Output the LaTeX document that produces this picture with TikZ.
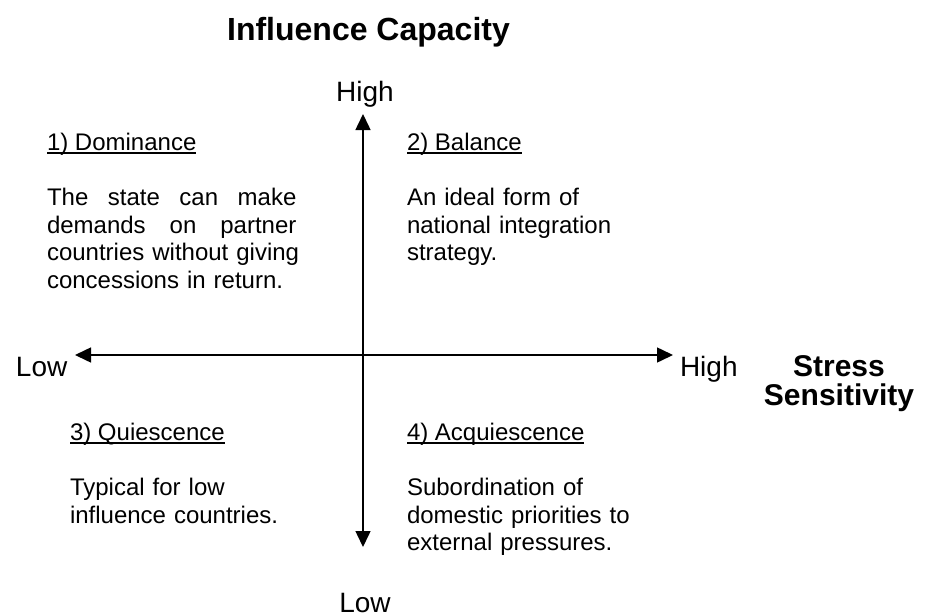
\documentclass[tikz,border=0pt]{standalone}
\usepackage{fontspec}
\setmainfont{Liberation Sans}
\usetikzlibrary{arrows.meta}
\newcommand\myul[1]{\setbox0\hbox{#1}\rlap{\rule[-1.9pt]{\wd0}{0.8pt}}\box0}
\newcommand\jline[1]{\leavevmode\hbox to 124.7pt{\spaceskip=0.278em plus 1fil\relax #1}}
\begin{document}
\begin{tikzpicture}[x=0.5pt,y=-0.5pt,
  txt/.style={inner sep=0pt, outer sep=0pt, font=\fontsize{12}{13.8}\selectfont, align=left, anchor=base west},
  headtxt/.style={txt},
  bodytxt/.style={txt, text width=135pt},
  axlabel/.style={inner sep=0pt, outer sep=0pt, font=\fontsize{14}{16}\selectfont},
  boldlabel/.style={inner sep=0pt, outer sep=0pt, font=\fontsize{15}{14.5}\selectfont\bfseries, align=center},
  axisline/.style={line width=0.75pt, {Triangle[length=8pt,width=7.5pt]}-{Triangle[length=8pt,width=7.5pt]}}]
\useasboundingbox (0,0) rectangle (925,615);
% title
\node[inner sep=0pt, font=\fontsize{16}{18}\selectfont\bfseries, anchor=base] (title) at (368.5,41) {Influence Capacity};
% axes
\coordinate (vtop) at (363,114);
\coordinate (vbot) at (363,547);
\coordinate (hleft) at (75,355);
\coordinate (hright) at (673,355);
\draw[axisline] (vbot) -- (vtop);
\draw[axisline] (hleft) -- (hright);
% axis labels
\node[axlabel, anchor=base] (ytop) at (365,102) {High};
\node[axlabel, anchor=base] (ybot) at (365,612) {Low};
\node[axlabel, anchor=base west] (xleft) at (16,376) {Low};
\node[axlabel, anchor=base west] (xright) at (680,376) {High};
\node[boldlabel, anchor=base] (xtitle) at (839,405) {Stress\\Sensitivity};
% quadrant 1
\node[headtxt] (h1) at (47,150) {\myul{1) Dominance}};
\node[bodytxt] (b1) at (47,205.5) {\jline{The state can make}\\
\jline{demands on partner}\\
countries without giving\\
concessions in return.};
% quadrant 2
\node[headtxt] (h2) at (407,150) {\myul{2) Balance}};
\node[bodytxt] (b2) at (407,205.5) {An ideal form of\\ national integration\\ strategy.};
% quadrant 3
\node[headtxt] (h3) at (70,440) {\myul{3) Quiescence}};
\node[bodytxt] (b3) at (70,495.5) {Typical for low\\ influence countries.};
% quadrant 4
\node[headtxt] (h4) at (407,440) {\myul{4) Acquiescence}};
\node[bodytxt] (b4) at (407,495.5) {Subordination of\\ domestic priorities to\\ external pressures.};
\end{tikzpicture}
\end{document}
